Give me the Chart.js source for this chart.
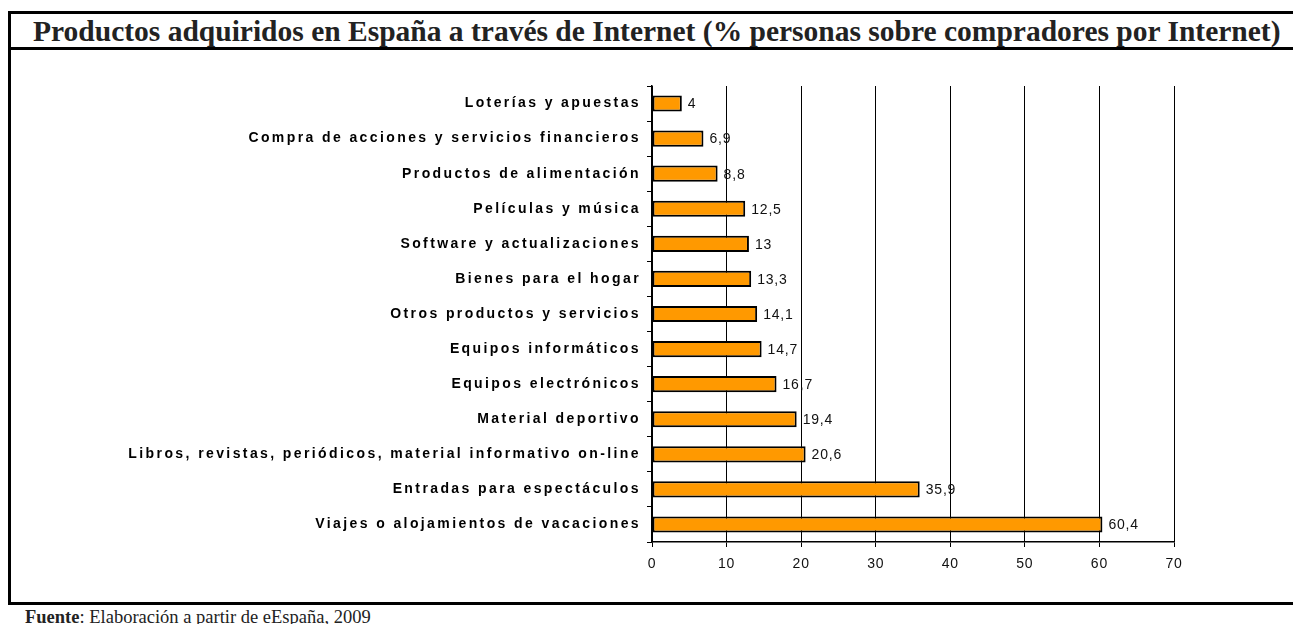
<!DOCTYPE html>
<html lang="es">
<head>
<meta charset="UTF-8">
<title>Productos adquiridos en España a través de Internet</title>
<script src="https://cdn.jsdelivr.net/npm/chart.js"></script>
<style>
  body { margin: 0; background: #fff; width: 1293px; height: 624px; overflow: hidden; position: relative; }
  #box { position: absolute; left: 8px; top: 11px; width: 1300px; height: 588px; border: 3px solid #000; }
  #title { height: 33px; line-height: 34px; border-bottom: 3px solid #000; padding-left: 22px;
           font-family: "Liberation Serif", "Times New Roman", serif; font-weight: bold; font-size: 29.5px;
           color: #222; white-space: nowrap; }
  #wrap { position: absolute; left: 0; top: 36px; width: 1282px; height: 552px; }
  #footer { position: absolute; left: 25px; top: 607px; font-family: "Liberation Serif", "Times New Roman", serif;
            font-size: 18.5px; color: #222; white-space: nowrap; }
</style>
</head>
<body>
<div id="box">
  <div id="title">Productos adquiridos en España a través de Internet (% personas sobre compradores por Internet)</div>
  <div id="wrap"><canvas id="chart" width="1282" height="552"></canvas></div>
</div>
<div id="footer"><b>Fuente</b>: Elaboración a partir de eEspaña, 2009</div>

<script>
const categories = [
  'Loterías y apuestas',
  'Compra de acciones y servicios financieros',
  'Productos de alimentación',
  'Películas y música',
  'Software y actualizaciones',
  'Bienes para el hogar',
  'Otros productos y servicios',
  'Equipos informáticos',
  'Equipos electrónicos',
  'Material deportivo',
  'Libros, revistas, periódicos, material informativo on-line',
  'Entradas para espectáculos',
  'Viajes o alojamientos de vacaciones'
];
const percentages = [4, 6.9, 8.8, 12.5, 13, 13.3, 14.1, 14.7, 16.7, 19.4, 20.6, 35.9, 60.4];
const valueLabels = percentages.map(v => String(v).replace('.', ','));
const axisMin = 0;
const axisMax = 70;
const axisStep = 10;

// letter spacing: wide for category labels, narrow for numbers
const spacingPlugin = {
  id: 'spacing',
  beforeDraw(chart) {
    chart.ctx.letterSpacing = '2.4px';
  },
  afterDatasetsDraw(chart) {
    const ctx = chart.ctx;
    ctx.letterSpacing = '0.8px';
    ctx.save();
    ctx.font = '14px "Liberation Sans", Arial, sans-serif';
    ctx.fillStyle = '#111';
    ctx.textAlign = 'left';
    ctx.textBaseline = 'middle';
    chart.getDatasetMeta(0).data.forEach((bar, i) => {
      ctx.fillText(valueLabels[i], bar.x + 6, bar.y + 1);
    });
    ctx.restore();
  }
};

new Chart(document.getElementById('chart').getContext('2d'), {
  type: 'bar',
  data: {
    labels: categories,
    datasets: [{
      data: percentages,
      backgroundColor: '#FF9900',
      borderColor: '#000',
      borderWidth: 2,
      borderSkipped: false,
      barPercentage: 0.46,
      categoryPercentage: 1
    }]
  },
  options: {
    indexAxis: 'y',
    responsive: false,
    animation: false,
    layout: { padding: { left: 0, top: 36, right: 119, bottom: 20 } },
    plugins: { legend: { display: false }, tooltip: { enabled: false } },
    scales: {
      x: {
        min: axisMin,
        max: axisMax,
        afterFit: s => { s.height = 40; },
        ticks: {
          stepSize: axisStep,
          color: '#111',
          font: { family: '"Liberation Sans", Arial, sans-serif', size: 14 },
          padding: 9,
          z: 1
        },
        grid: { color: '#000', lineWidth: 1, tickLength: 5, tickColor: '#000' },
        border: { color: '#000', width: 1.5 }
      },
      y: {
        afterFit: s => { s.width = 641; },
        ticks: {
          color: '#000',
          font: { family: '"Liberation Sans", Arial, sans-serif', size: 14, weight: 'bold' },
          padding: 6,
          autoSkip: false
        },
        grid: { drawOnChartArea: false, offset: true, tickLength: 5, color: '#000' },
        border: { color: '#000', width: 1.5 }
      }
    }
  },
  plugins: [spacingPlugin]
});
</script>
</body>
</html>
